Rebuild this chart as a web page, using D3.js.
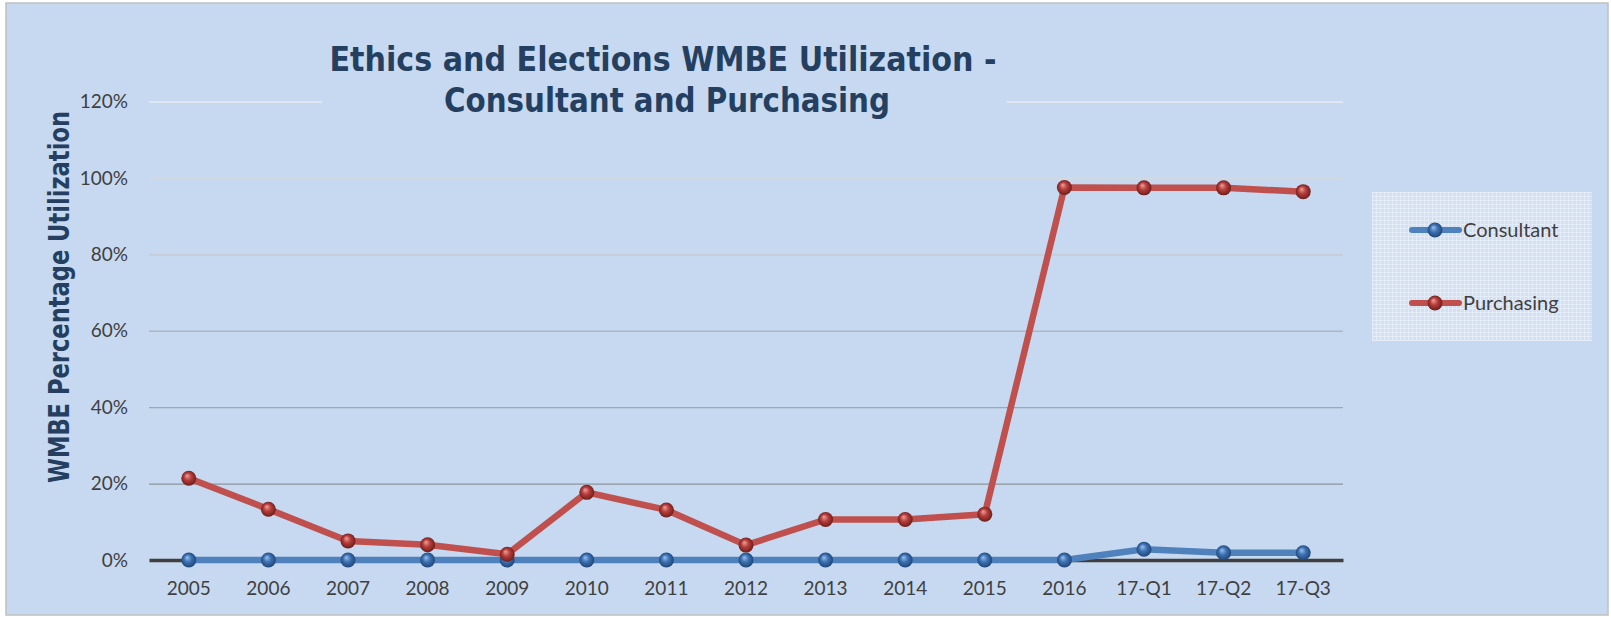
<!DOCTYPE html>
<html>
<head>
<meta charset="utf-8">
<script src="https://cdn.jsdelivr.net/npm/d3@7"></script>
<style>
  body { margin: 0; background: #ffffff; }
  svg { display: block; }
</style>
</head>
<body>
<div id="chart"></div>
<script>
// chart data
var categories = ["2005", "2006", "2007", "2008", "2009", "2010", "2011", "2012",
  "2013", "2014", "2015", "2016", "17-Q1", "17-Q2", "17-Q3"];
var consultant = [0, 0, 0, 0, 0, 0, 0, 0, 0, 0, 0, 0, 0.028, 0.019, 0.019];
var purchasing = [0.214, 0.133, 0.050, 0.040, 0.015, 0.177, 0.131, 0.039,
  0.106, 0.106, 0.120, 0.975, 0.974, 0.974, 0.964];
var yTicks = [0, 0.2, 0.4, 0.6, 0.8, 1.0, 1.2];
var seriesNames = ["Consultant", "Purchasing"];

var svgWidth = 1611;
var svgHeight = 617;

// plot area
var plot = { left: 149, right: 1343, top: 101.5, bottom: 560 };

var svg = d3.select("#chart")
  .append("svg")
  .attr("width", svgWidth)
  .attr("height", svgHeight);

var defs = svg.append("defs");

// sphere gradients for the markers
function sphere(id, light, base, dark) {
  var g = defs.append("radialGradient")
    .attr("id", id)
    .attr("cx", "50%").attr("cy", "50%").attr("r", "55%")
    .attr("fx", "38%").attr("fy", "32%");
  g.append("stop").attr("offset", "0%").attr("stop-color", light);
  g.append("stop").attr("offset", "45%").attr("stop-color", base);
  g.append("stop").attr("offset", "100%").attr("stop-color", dark);
}
sphere("ballBlue", "#9cc0ea", "#3c72b4", "#1d3f6e");
sphere("ballRed", "#f0a09c", "#b53d3a", "#641a18");

// faint grid texture for the legend box
var pat = defs.append("pattern")
  .attr("id", "legendTex")
  .attr("width", 4).attr("height", 4)
  .attr("patternUnits", "userSpaceOnUse");
pat.append("rect").attr("width", 4).attr("height", 4).attr("fill", "#d3e0f1");
pat.append("path").attr("d", "M0,0.5H4M0.5,0V4")
  .attr("stroke", "#e4ecf7").attr("stroke-width", 1);

// chart background with border
svg.append("rect")
  .attr("x", 6).attr("y", 3)
  .attr("width", 1602).attr("height", 612)
  .attr("fill", "#c6d9f0")
  .attr("stroke", "#c0c0c0")
  .attr("stroke-width", 1.5);

// scales
var x = d3.scaleBand()
  .domain(categories)
  .range([plot.left, plot.right]);

var y = d3.scaleLinear()
  .domain([0, 1.2])
  .range([plot.bottom, plot.top]);

var cx = function(c) { return x(c) + x.bandwidth() / 2; };

// gridlines, lighter towards the top
var gridColor = d3.scaleLinear()
  .domain([0.2, 1.2])
  .range(["#8e949b", "#e6ecf4"]);

var grid = svg.append("g")
  .attr("transform", `translate(${plot.left},0)`)
  .call(d3.axisLeft(y)
    .tickValues(yTicks.filter(function(t) { return t > 0; }))
    .tickSize(-(plot.right - plot.left))
    .tickFormat(""));
grid.select(".domain").remove();
grid.selectAll(".tick line")
  .attr("stroke", function(d) { return gridColor(d); })
  .attr("stroke-width", 1.3);

// y tick labels
var yAxis = svg.append("g")
  .attr("transform", `translate(${plot.left},0)`)
  .call(d3.axisLeft(y)
    .tickValues(yTicks)
    .tickSize(0)
    .tickPadding(21)
    .tickFormat(d3.format(".0%")));
yAxis.select(".domain").remove();
yAxis.selectAll("text")
  .attr("font-family", "Lato, 'Open Sans', sans-serif")
  .attr("font-size", 19)
  .attr("fill", "#404040");

// title box covers the top gridline
svg.append("rect")
  .attr("x", 322).attr("y", 36)
  .attr("width", 685).attr("height", 88)
  .attr("fill", "#c6d9f0");

var titleFont = "'DejaVu Sans Condensed', 'DejaVu Sans', sans-serif";
svg.append("text")
  .attr("x", 663).attr("y", 71)
  .attr("text-anchor", "middle")
  .attr("font-family", titleFont)
  .attr("font-stretch", "condensed")
  .attr("font-weight", "bold")
  .attr("font-size", 33)
  .attr("fill", "#243f60")
  .attr("textLength", 667)
  .attr("lengthAdjust", "spacingAndGlyphs")
  .text("Ethics and Elections WMBE Utilization -");

svg.append("text")
  .attr("x", 667).attr("y", 112)
  .attr("text-anchor", "middle")
  .attr("font-family", titleFont)
  .attr("font-stretch", "condensed")
  .attr("font-weight", "bold")
  .attr("font-size", 33)
  .attr("fill", "#243f60")
  .attr("textLength", 446)
  .attr("lengthAdjust", "spacingAndGlyphs")
  .text("Consultant and Purchasing");

// y axis title
svg.append("text")
  .attr("transform", "translate(69, 297) rotate(-90)")
  .attr("text-anchor", "middle")
  .attr("font-family", titleFont)
  .attr("font-stretch", "condensed")
  .attr("font-weight", "bold")
  .attr("font-size", 28)
  .attr("fill", "#243f60")
  .attr("textLength", 372)
  .attr("lengthAdjust", "spacingAndGlyphs")
  .text("WMBE Percentage Utilization");

// x axis: dark base line and labels
var xAxis = svg.append("g")
  .attr("transform", `translate(0,${plot.bottom})`)
  .call(d3.axisBottom(x).tickSize(0).tickPadding(22));
xAxis.select(".domain")
  .attr("stroke", "#3f3f3f")
  .attr("stroke-width", 3.5);
xAxis.selectAll("text")
  .attr("font-family", "Lato, 'Open Sans', sans-serif")
  .attr("font-size", 19)
  .attr("fill", "#404040");

// series
var series = [
  { name: seriesNames[0], values: consultant, line: "#4f81bd", ball: "url(#ballBlue)" },
  { name: seriesNames[1], values: purchasing, line: "#c0504d", ball: "url(#ballRed)" }
];

var line = d3.line()
  .x(function(d, i) { return cx(categories[i]); })
  .y(function(d) { return y(d); });

series.forEach(function(s) {
  svg.append("path")
    .datum(s.values)
    .attr("d", line)
    .attr("fill", "none")
    .attr("stroke", s.line)
    .attr("stroke-width", 6.5)
    .attr("stroke-linejoin", "round")
    .attr("stroke-linecap", "round");

  svg.append("g")
    .selectAll("circle")
    .data(s.values)
    .enter()
    .append("circle")
    .attr("cx", function(d, i) { return cx(categories[i]); })
    .attr("cy", function(d) { return y(d); })
    .attr("r", 7.5)
    .attr("fill", s.ball);
});

// legend
var legend = svg.append("g");
legend.append("rect")
  .attr("x", 1372).attr("y", 192)
  .attr("width", 220).attr("height", 149)
  .attr("fill", "url(#legendTex)");

var legendY = d3.scalePoint()
  .domain(seriesNames)
  .range([230, 303]);

series.forEach(function(s) {
  var ly = legendY(s.name);
  legend.append("line")
    .attr("x1", 1412).attr("x2", 1459)
    .attr("y1", ly).attr("y2", ly)
    .attr("stroke", s.line)
    .attr("stroke-width", 6)
    .attr("stroke-linecap", "round");
  legend.append("circle")
    .attr("cx", 1435).attr("cy", ly)
    .attr("r", 7.5)
    .attr("fill", s.ball);
  legend.append("text")
    .attr("x", 1463).attr("y", ly + 7)
    .attr("font-family", "Lato, 'Open Sans', sans-serif")
    .attr("font-size", 20)
    .attr("fill", "#404040")
    .text(s.name);
});
</script>
</body>
</html>
